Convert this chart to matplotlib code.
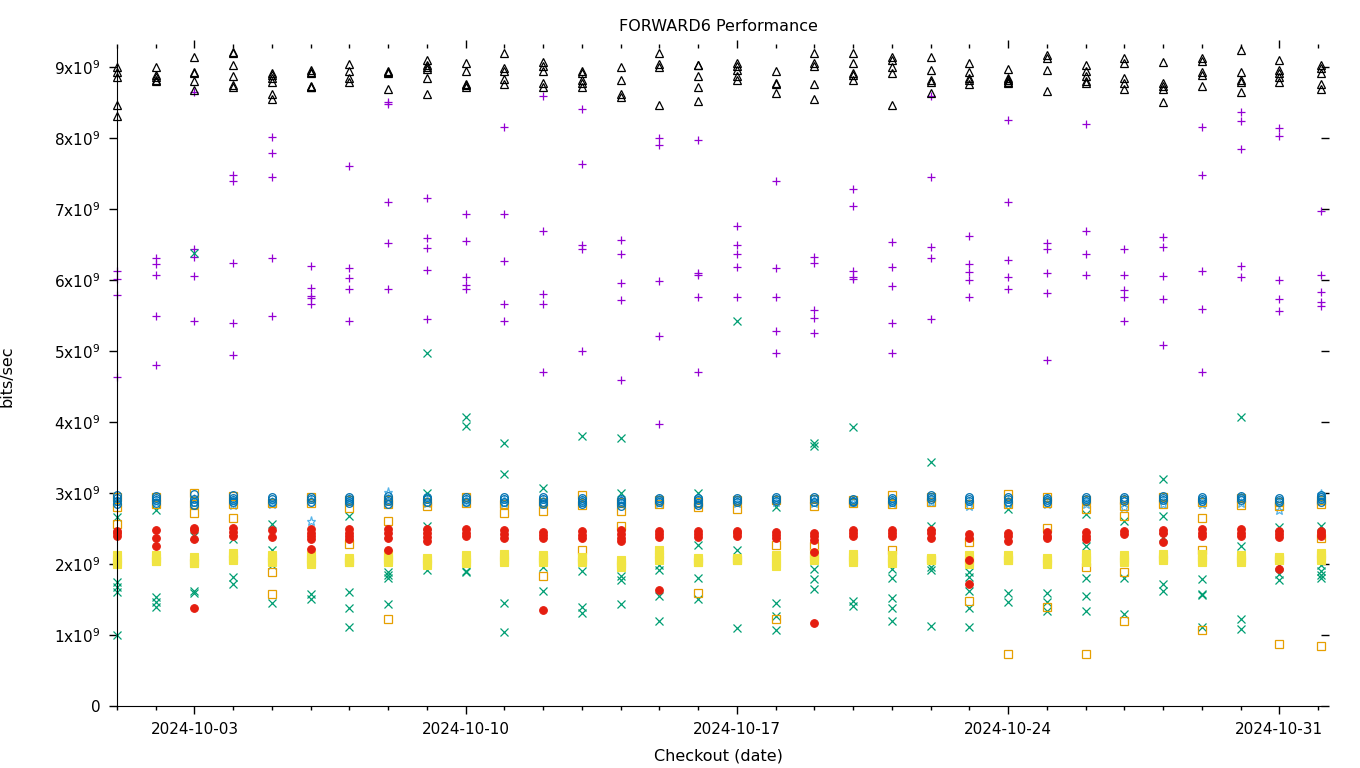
import numpy as np
import pandas as pd
import matplotlib
matplotlib.use("Agg")
import matplotlib.pyplot as plt
import matplotlib.dates as mdates
from matplotlib.ticker import FuncFormatter

# checkout dates (one column of points per day)
dates = list(pd.date_range("2024-10-01", "2024-10-31", freq="D")) + [pd.Timestamp("2024-11-01 01:30")]

# values in units of 1e9 bits/sec, one list per day
purple_plus = [
    [6.13, 6.02, 5.79, 4.64], [6.31, 6.23, 6.07, 5.5, 4.81], [8.66, 6.44, 6.33, 6.06, 5.43],
    [7.48, 7.4, 6.24, 5.4, 4.94], [8.02, 7.79, 7.45, 6.31, 5.5], [6.2, 5.89, 5.78, 5.75, 5.66],
    [7.61, 6.17, 6.03, 5.87, 5.43], [8.51, 8.49, 7.11, 6.53, 5.88], [7.16, 6.6, 6.46, 6.14, 5.46],
    [6.93, 6.55, 6.05, 5.94, 5.87], [8.16, 6.93, 6.27, 5.67, 5.43], [8.6, 6.69, 5.81, 5.66, 4.71],
    [8.42, 7.64, 6.5, 6.44, 5.0], [6.57, 6.37, 5.96, 5.72, 4.6], [8.01, 7.9, 5.99, 5.22, 3.98],
    [7.98, 6.1, 6.08, 5.77, 4.71], [6.76, 6.49, 6.37, 6.18, 5.77], [7.4, 6.17, 5.77, 5.28, 4.98],
    [6.33, 6.25, 5.58, 5.47, 5.25], [7.28, 7.04, 6.13, 6.05, 6.02], [6.54, 6.19, 5.92, 5.4, 4.97],
    [8.6, 7.45, 6.47, 6.32, 5.46], [6.62, 6.23, 6.12, 6.01, 5.76], [8.26, 7.1, 6.29, 6.04, 5.88],
    [6.53, 6.44, 6.1, 5.82, 4.88], [8.2, 6.69, 6.37, 6.08], [6.44, 6.07, 5.86, 5.77, 5.43],
    [6.61, 6.47, 6.06, 5.73, 5.08], [8.16, 7.48, 6.13, 5.59, 4.71], [8.37, 8.25, 7.85, 6.2, 6.05],
    [8.14, 8.04, 6.0, 5.73, 5.57], [6.97, 6.07, 5.84, 5.69, 5.64],
]
green_x = [
    [2.66, 1.74, 1.67, 1.6, 1.0], [2.76, 1.53, 1.46, 1.39], [6.38, 2.4, 1.62, 1.59],
    [2.35, 1.81, 1.72], [2.57, 2.19, 1.98, 1.45], [1.58, 1.51],
    [2.68, 1.6, 1.38, 1.11], [1.88, 1.84, 1.8, 1.44], [4.98, 3.0, 2.54, 1.91],
    [4.07, 3.94, 1.9, 1.88], [3.7, 3.27, 1.45, 1.04], [3.07, 1.96, 1.62],
    [3.81, 1.9, 1.39, 1.31], [3.78, 3.0, 1.83, 1.77, 1.43], [1.98, 1.92, 1.55, 1.2],
    [3.0, 2.27, 1.8, 1.51], [5.43, 2.2, 1.1], [2.8, 1.45, 1.27, 1.07],
    [3.71, 3.66, 1.93, 1.79, 1.65], [3.93, 1.48, 1.41], [1.93, 1.8, 1.52, 1.38, 1.19],
    [3.44, 2.54, 1.96, 1.91, 1.13], [1.88, 1.81, 1.62, 1.38, 1.11], [2.78, 1.59, 1.47],
    [1.59, 1.46, 1.34], [2.71, 2.26, 1.8, 1.55, 1.34], [2.6, 1.8, 1.29],
    [3.2, 2.67, 2.38, 1.72, 1.62], [1.79, 1.58, 1.56, 1.11], [4.07, 2.26, 1.22, 1.08],
    [2.52, 1.98, 1.86, 1.77], [2.54, 1.99, 1.9, 1.84, 1.8],
]
lightblue_star = [
    [2.92, 2.88], [2.9, 2.87], [2.92, 2.86], [2.9, 2.83], [2.88, 2.85], [2.9, 2.61],
    [2.92, 2.87], [3.02, 2.88], [2.9, 2.86], [2.92, 2.88], [2.9, 2.86], [2.9, 2.85],
    [2.9, 2.86], [2.9, 2.85], [2.92, 2.86], [2.9, 2.85], [2.9, 2.86], [2.92, 2.87],
    [2.9, 2.86], [2.9, 2.87], [2.9, 2.86], [2.93, 2.88], [2.88, 2.82], [2.9, 2.86],
    [2.92, 2.85], [2.9, 2.84], [2.92, 2.8], [2.9, 2.84], [2.9, 2.85], [2.95, 2.86],
    [2.88, 2.76], [2.98, 2.9],
]
orange_sq = [
    [2.95, 2.8, 2.57], [2.95, 2.84], [3.0, 2.85, 2.72], [2.96, 2.85, 2.65], [2.86, 1.88, 1.58],
    [2.95, 2.86], [2.9, 2.79, 2.28], [2.9, 2.85, 2.61, 1.22], [2.88, 2.82], [2.95, 2.86],
    [2.85, 2.72], [2.88, 2.75, 1.83], [2.97, 2.83, 2.19], [2.88, 2.75, 2.53], [2.9, 2.85],
    [2.88, 2.8, 1.59], [2.9, 2.78], [2.9, 2.27, 1.22], [2.92, 2.82, 2.25], [2.9, 2.86],
    [2.97, 2.85, 2.2], [2.95, 2.88], [2.85, 2.31, 1.48], [2.99, 2.85, 0.73], [2.95, 2.86, 2.5, 1.39],
    [2.9, 2.78, 1.95, 0.73], [2.9, 2.82, 2.68, 1.89, 1.2], [2.95, 2.84], [2.88, 2.65, 2.2, 1.07],
    [2.93, 2.83], [2.88, 2.82, 0.87], [2.9, 2.85, 2.36, 0.84],
]
yellow_sq = [
    [2.12, 2.07, 2.03, 2.0], [2.12, 2.08, 2.04, 2.04], [2.1, 2.06, 2.02, 2.02], [2.16, 2.11, 2.07, 2.06],
    [2.12, 2.08, 2.04, 2.03], [2.12, 2.07, 2.03, 2.0], [2.09, 2.06, 2.03, 2.03], [2.14, 2.09, 2.05, 2.03],
    [2.09, 2.05, 2.01, 1.98], [2.12, 2.07, 2.03, 2.01], [2.14, 2.1, 2.06, 2.03], [2.13, 2.09, 2.05, 2.03],
    [2.1, 2.07, 2.04, 2.03], [2.05, 2.01, 1.98, 1.96], [2.19, 2.14, 2.1, 2.05], [2.08, 2.05, 2.03, 2.03],
    [2.09, 2.07, 2.05, 2.05], [2.13, 2.08, 2.02, 1.97], [2.15, 2.11, 2.07, 2.05], [2.14, 2.1, 2.06, 2.03],
    [2.12, 2.08, 2.04, 2.02], [2.09, 2.07, 2.06, 2.06], [2.12, 2.07, 2.03, 2.0], [2.12, 2.09, 2.06, 2.06],
    [2.09, 2.05, 2.02, 2.0], [2.14, 2.1, 2.06, 2.03], [2.12, 2.08, 2.05, 2.03], [2.14, 2.1, 2.07, 2.06],
    [2.14, 2.1, 2.06, 2.03], [2.12, 2.08, 2.05, 2.03], [2.1, 2.08, 2.06, 2.06], [2.16, 2.12, 2.08, 2.05],
]
blue_circ = [
    [2.97, 2.93, 2.89, 2.85], [2.96, 2.93, 2.9, 2.86], [2.98, 2.92, 2.88, 2.83], [2.97, 2.93, 2.9, 2.87],
    [2.94, 2.91, 2.88], [2.95, 2.92, 2.88], [2.95, 2.92, 2.89, 2.86], [2.96, 2.92, 2.89, 2.85],
    [2.94, 2.91, 2.87], [2.94, 2.91, 2.88], [2.94, 2.91, 2.88], [2.94, 2.91, 2.88, 2.84],
    [2.93, 2.9, 2.87, 2.84], [2.92, 2.89, 2.86, 2.82], [2.93, 2.9, 2.87], [2.93, 2.9, 2.86, 2.83],
    [2.93, 2.9, 2.87], [2.95, 2.92, 2.89], [2.94, 2.91, 2.88], [2.92, 2.89, 2.87],
    [2.93, 2.9, 2.88], [2.97, 2.94, 2.91], [2.95, 2.92, 2.89], [2.94, 2.91, 2.88],
    [2.93, 2.9, 2.88], [2.95, 2.92, 2.89], [2.95, 2.92, 2.89], [2.96, 2.93, 2.9],
    [2.95, 2.92, 2.89], [2.96, 2.93, 2.9], [2.93, 2.9, 2.88], [2.97, 2.94, 2.91, 2.88],
]
red_circ = [
    [2.47, 2.43, 2.4], [2.48, 2.36, 2.25], [2.51, 2.48, 2.35, 1.38], [2.5, 2.45, 2.4], [2.48, 2.38],
    [2.49, 2.44, 2.4, 2.35, 2.21], [2.49, 2.44, 2.4, 2.35], [2.49, 2.43, 2.37, 2.2], [2.49, 2.44, 2.38, 2.33],
    [2.49, 2.44, 2.4], [2.48, 2.42, 2.36], [2.45, 2.41, 2.36, 1.35], [2.46, 2.41, 2.36],
    [2.48, 2.42, 2.36, 2.32], [2.47, 2.42, 2.38, 1.63], [2.47, 2.42, 2.38], [2.47, 2.43, 2.4],
    [2.45, 2.41, 2.37], [2.44, 2.39, 2.34, 2.17, 1.17], [2.48, 2.44, 2.39], [2.48, 2.43, 2.39],
    [2.48, 2.43, 2.37], [2.42, 2.37, 2.05, 1.72], [2.44, 2.39, 2.33], [2.45, 2.4, 2.36],
    [2.45, 2.4, 2.35], [2.46, 2.42], [2.48, 2.44, 2.31], [2.49, 2.44, 2.39], [2.49, 2.44, 2.39],
    [2.47, 2.42, 2.38, 1.93], [2.47, 2.43, 2.39],
]
black_tri = [
    [9.0, 8.93, 8.87, 8.47, 8.31], [9.0, 8.9, 8.86, 8.82, 8.81], [9.15, 8.94, 8.92, 8.81, 8.68],
    [9.22, 9.2, 9.03, 8.88, 8.75, 8.72], [8.92, 8.89, 8.85, 8.79, 8.62, 8.55], [8.97, 8.94, 8.92, 8.74, 8.73, 8.72],
    [9.05, 8.95, 8.85, 8.8], [8.95, 8.93, 8.92, 8.69], [9.11, 9.04, 9.0, 8.98, 8.85, 8.62],
    [9.06, 8.95, 8.77, 8.75, 8.72], [9.2, 8.99, 8.95, 8.84, 8.77], [9.08, 9.02, 8.95, 8.78, 8.72],
    [8.95, 8.92, 8.83, 8.78, 8.72], [9.01, 8.83, 8.63, 8.58], [9.2, 9.05, 9.01, 8.47],
    [9.04, 9.03, 8.88, 8.72, 8.53], [9.06, 9.02, 8.97, 8.88, 8.83], [8.95, 8.78, 8.76, 8.64],
    [9.2, 9.06, 9.02, 8.76, 8.55], [9.2, 9.06, 8.92, 8.89, 8.83], [9.15, 9.1, 9.0, 8.92, 8.47],
    [9.15, 8.97, 8.82, 8.79, 8.64], [9.06, 8.94, 8.85, 8.82, 8.77], [8.98, 8.85, 8.83, 8.82, 8.8, 8.78],
    [9.18, 9.13, 8.97, 8.67], [9.04, 8.95, 8.88, 8.81, 8.78], [9.13, 9.06, 8.85, 8.78, 8.69],
    [9.08, 8.78, 8.74, 8.7, 8.52], [9.13, 9.09, 8.93, 8.9, 8.74], [9.25, 8.94, 8.82, 8.79, 8.66],
    [9.1, 8.97, 8.92, 8.87, 8.8], [9.04, 8.99, 8.92, 8.76, 8.69],
]

scale = 1e9

# series in gnuplot order: (data, marker, color, size, filled)
series = [
    (purple_plus, "+", "#9400d3", 6, False),
    (green_x, "x", "#009e73", 5.5, False),
    (lightblue_star, "*", "#56b4e9", 6.5, False),
    (orange_sq, "s", "#e69f00", 5.2, False),
    (yellow_sq, "s", "#f0e442", 5.5, True),
    (blue_circ, "o", "#0072b2", 5.5, False),
    (red_circ, "o", "#e51e10", 5.5, True),
    (black_tri, "^", "black", 6, False),
]

fig = plt.figure(figsize=(13.6, 7.68), dpi=100)
ax = fig.add_axes([0.086, 0.081, 0.885, 0.857])

for data, mk, col, ms, filled in series:
    xs, ys = [], []
    for d, vals in zip(dates, data):
        for v in vals:
            xs.append(d)
            ys.append(v * scale)
    if mk in ("+", "x"):
        ax.plot(xs, ys, linestyle="none", marker=mk, color=col, ms=ms, mew=0.9, clip_on=False)
    elif filled:
        ax.plot(xs, ys, linestyle="none", marker=mk, color=col, mec=col, mfc=col, ms=ms, mew=0.8, clip_on=False)
    else:
        ax.plot(xs, ys, linestyle="none", marker=mk, color=col, mfc="none", ms=ms, mew=0.9, clip_on=False)

ax.set_xlim(dates[0], dates[-1])
ax.set_ylim(0, 9.28e9)

ax.xaxis.set_major_locator(mdates.DayLocator(bymonthday=[3, 10, 17, 24, 31]))
ax.xaxis.set_minor_locator(mdates.DayLocator())
ax.xaxis.set_major_formatter(mdates.DateFormatter("%Y-%m-%d"))
ax.set_yticks(np.arange(0, 10) * 1e9)
ax.yaxis.set_major_formatter(FuncFormatter(
    lambda v, p: "0" if v == 0 else "%dx10$^{9}$" % round(v / 1e9)))

ax.spines["top"].set_visible(False)
ax.spines["right"].set_visible(False)
ax.tick_params(which="both", direction="out", top=True, right=True, width=1, labelsize=11)
ax.tick_params(which="major", length=6, pad=6)
ax.tick_params(which="minor", length=3)

ax.set_title("FORWARD6 Performance", fontsize=11.5, pad=12)
ax.set_xlabel("Checkout (date)", fontsize=11.5, labelpad=8)
ax.set_ylabel("bits/sec", fontsize=11.5)
ax.yaxis.set_label_coords(-0.085, 0.5)

fig.savefig("out.png", dpi=100)
